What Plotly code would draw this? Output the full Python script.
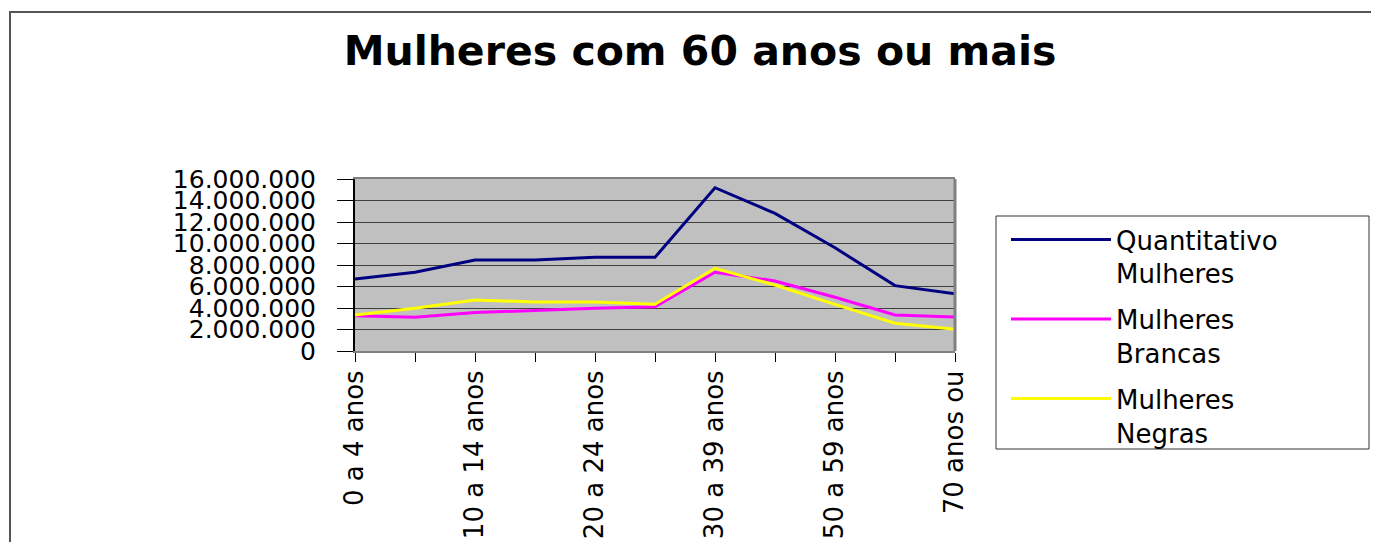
import plotly.graph_objects as go

categories = ["0 a 4 anos", "5 a 9 anos", "10 a 14 anos", "15 a 19 anos", "20 a 24 anos",
              "25 a 29 anos", "30 a 39 anos", "40 a 49 anos", "50 a 59 anos", "60 a 69 anos",
              "70 anos ou mais"]
tick_labels = ["0 a 4 anos", "", "10 a 14 anos", "", "20 a 24 anos", "", "30 a 39 anos", "",
               "50 a 59 anos", "", "70 anos ou"]
quantitativo = [6.70e6, 7.32e6, 8.47e6, 8.47e6, 8.71e6, 8.71e6, 15.19e6, 12.80e6, 9.60e6, 6.08e6, 5.33e6]
brancas = [3.29e6, 3.14e6, 3.57e6, 3.78e6, 3.97e6, 4.12e6, 7.32e6, 6.51e6, 5.00e6, 3.35e6, 3.16e6]
negras = [3.35e6, 3.97e6, 4.74e6, 4.56e6, 4.56e6, 4.34e6, 7.69e6, 6.14e6, 4.34e6, 2.58e6, 2.02e6]
series_names = ["Quantitativo<br>Mulheres", "Mulheres<br>Brancas", "Mulheres<br>Negras"]
series_colors = ["#000080", "#FF00FF", "#FFFF00"]
y_ticks = [0, 2e6, 4e6, 6e6, 8e6, 10e6, 12e6, 14e6, 16e6]

FONT = "DejaVu Sans"

# page body has an 8px margin; figure sized to fit the window without overflow.
# plot area lands at screen x 355-955, y 179-351
W, H = 1363, 534
OFF = 8

def px(sx):
    return (sx - 355) / 600.0

def py(sy):
    return (351 - sy) / 172.0

fig = go.Figure()
for i, (name, vals, col) in enumerate(zip(series_names, [quantitativo, brancas, negras], series_colors)):
    fig.add_trace(go.Scatter(x=categories, y=vals, mode="lines", name=name,
                             legendgroup="g%d" % i,
                             line=dict(color=col, width=3)))

fig.update_layout(
    width=W, height=H,
    margin=dict(l=355 - OFF, r=W - (955 - OFF), t=179 - OFF, b=H - (351 - OFF), autoexpand=False),
    paper_bgcolor="white",
    plot_bgcolor="#C0C0C0",
    separators=",.",
    title=dict(text="<b>Mulheres com 60 anos ou mais</b>",
               font=dict(family=FONT, size=41, color="black"),
               x=(700 - OFF) / W, xref="container", xanchor="center",
               y=1 - (51 - OFF) / H, yref="container", yanchor="middle"),
    showlegend=True,
    legend=dict(x=px(1006), y=py(216), xanchor="left", yanchor="top",
                borderwidth=0, bgcolor="rgba(0,0,0,0)",
                font=dict(family=FONT, size=26, color="black"),
                valign="top", itemwidth=100, tracegroupgap=9,
                traceorder="grouped", maxheight=400),
    xaxis=dict(type="category", range=[0, 10], tickmode="array",
               tickvals=categories, ticktext=tick_labels, tickangle=-90,
               ticks="outside", ticklen=9, tickcolor="black", tickwidth=1,
               ticklabelstandoff=-2,
               showgrid=False, showline=True, linecolor="#808080", linewidth=2, mirror=True,
               tickfont=dict(family=FONT, size=26, color="black"), zeroline=False),
    yaxis=dict(range=[0, 16e6], tickmode="array", tickvals=y_ticks, tickformat=",d",
               ticks="outside", ticklen=16, tickcolor="black", tickwidth=1,
               ticklabelstandoff=16,
               showgrid=True, gridcolor="#404040", gridwidth=1,
               showline=True, linecolor="black", linewidth=2, zeroline=False,
               tickfont=dict(family=FONT, size=25, color="black")),
    shapes=[
        dict(type="line", xref="paper", yref="paper", x0=1, x1=1, y0=0, y1=1,
             line=dict(color="#808080", width=3)),
        dict(type="rect", xref="paper", yref="paper", x0=px(10), x1=px(1400), y0=py(570), y1=py(12),
             line=dict(color="#555555", width=2), fillcolor="rgba(0,0,0,0)", layer="below"),
        dict(type="rect", xref="paper", yref="paper", x0=px(996), x1=px(1369), y0=py(449), y1=py(216),
             line=dict(color="#333333", width=1), fillcolor="white", layer="below"),
    ],
)

fig.write_html("out.html")
